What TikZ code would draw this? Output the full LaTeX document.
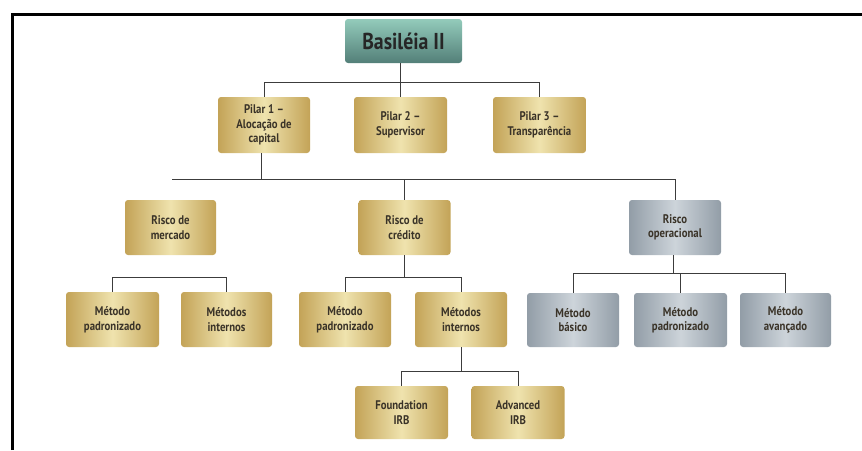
\documentclass[tikz,border=0pt]{standalone}
\usepackage{fontspec}
\setmainfont{PT Sans}
\newfontfamily\narrowfont[FakeStretch=0.86]{PT Sans}
\definecolor{goldL}{HTML}{EFE3AE}
\definecolor{goldD}{HTML}{C3A357}
\definecolor{tealL}{HTML}{93CBBB}
\definecolor{tealD}{HTML}{537F78}
\definecolor{greyL}{HTML}{CDD4DA}
\definecolor{greyD}{HTML}{929DA7}
\definecolor{txt}{HTML}{3A3328}
\definecolor{wire}{HTML}{3C3C3C}
\tikzset{
  box/.style={rounded corners=3pt, align=center, inner sep=0pt, text=txt,
    font=\narrowfont\fontsize{12.5}{14.5}\selectfont\bfseries},
  goldbox/.style={box, shading=axis, left color=goldD, right color=goldD, middle color=goldL},
  greybox/.style={box, shading=axis, left color=greyD, right color=greyD, middle color=greyL},
  tealbox/.style={box, shading=axis, shading angle=135, top color=tealL, bottom color=tealD,
    text=black!85, font=\narrowfont\fontsize{23}{26}\selectfont\bfseries},
  wirestyle/.style={draw=wire, line width=1pt},
}
\begin{document}
\begin{tikzpicture}[x=1pt,y=-1pt]
\useasboundingbox (0,0) rectangle (862,450);
\draw[line width=3pt, black] (12.5,450) -- (12.5,14) -- (862,14);

\node[tealbox, minimum width=117pt, minimum height=44pt] (bas) at (403.5,41) {Basiléia II};

\node[goldbox, minimum width=92pt, minimum height=56pt] (p1) at (264,125) {Pilar 1 –\\Alocação de\\capital};
\node[goldbox, minimum width=93pt, minimum height=56pt] (p2) at (400.5,125) {Pilar 2 –\\Supervisor};
\node[goldbox, minimum width=93pt, minimum height=56pt] (p3) at (539.5,125) {Pilar 3 –\\Transparência};

\node[goldbox, minimum width=91pt, minimum height=55pt] (rm) at (170.5,227.5) {Risco de\\mercado};
\node[goldbox, minimum width=92pt, minimum height=55pt] (rc) at (404.5,227.5) {Risco de\\crédito};
\node[greybox, minimum width=92pt, minimum height=55pt] (ro) at (675,227.5) {Risco\\operacional};

\node[goldbox, minimum width=93pt, minimum height=55pt] (m1) at (112.5,319.5) {Método\\padronizado};
\node[goldbox, minimum width=91pt, minimum height=55pt] (m2) at (226.5,319.5) {Métodos\\internos};
\node[goldbox, minimum width=92pt, minimum height=55pt] (c1) at (345,319.5) {Método\\padronizado};
\node[goldbox, minimum width=92pt, minimum height=55pt] (c2) at (461,319.5) {Métodos\\internos};
\node[greybox, minimum width=92pt, minimum height=54pt] (o1) at (573,320) {Método\\básico};
\node[greybox, minimum width=93pt, minimum height=54pt] (o2) at (680.5,320) {Método\\padronizado};
\node[greybox, minimum width=91pt, minimum height=54pt] (o3) at (785.5,320) {Método\\avançado};

\node[goldbox, minimum width=93pt, minimum height=53pt] (f1) at (401.5,412.5) {Foundation\\IRB};
\node[goldbox, minimum width=93pt, minimum height=53pt] (f2) at (518,412.5) {Advanced\\IRB};

% level 1
\coordinate (bus1) at (0,82);
\draw[wirestyle] (bas.south -| p2.north) -- (p2.north);
\draw[wirestyle] (p1.north) -- (p1.north |- bus1) -| (p3.north);
% level 2
\coordinate (bus2) at (0,179);
\coordinate (p1d) at (261,0);
\coordinate (busL) at (172,179);
\draw[wirestyle] (p1.south -| p1d) -- (p1d |- bus2);
\draw[wirestyle] (busL) -- (ro.north |- bus2) -- (ro.north);
\draw[wirestyle] (rc.north |- bus2) -- (rc.north);
% level 3
\coordinate (bus3) at (0,277);
\coordinate (bus3o) at (0,273);
\draw[wirestyle] (m1.north) -- (m1.north |- bus3) -| (m2.north);
\draw[wirestyle] (rc.south) -- (rc.south |- bus3);
\draw[wirestyle] (c1.north) -- (c1.north |- bus3) -| (c2.north);
\draw[wirestyle] (ro.south -| o2.north) ++(-7,0) -- ++(0,18);
\draw[wirestyle] (o1.north) -- (o1.north |- bus3o) -| (o3.north);
\draw[wirestyle] (o2.north) -- (o2.north |- bus3o);
% level 4
\coordinate (bus4) at (0,371);
\draw[wirestyle] (c2.south) -- (c2.south |- bus4);
\draw[wirestyle] (f1.north) -- (f1.north |- bus4) -| (f2.north);
\end{tikzpicture}
\end{document}
